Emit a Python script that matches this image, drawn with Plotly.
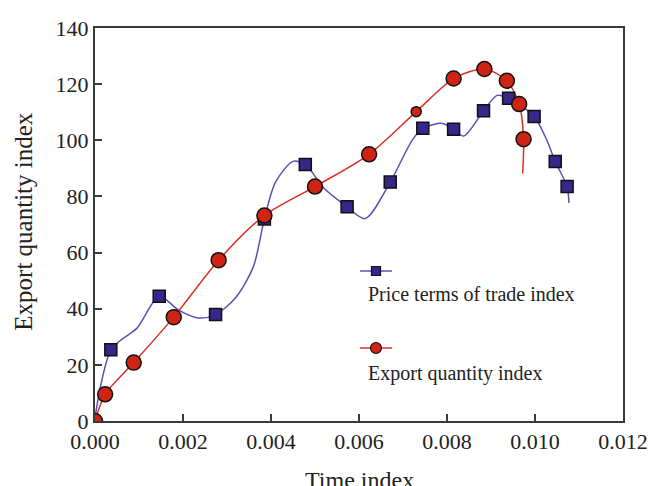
import plotly.graph_objects as go

# ---------------- data ----------------
# Price terms of trade index: marker points
price_x = [0.00036, 0.00146, 0.00274, 0.00385, 0.00478, 0.00573, 0.00671,
           0.00745, 0.00815, 0.00883, 0.00940, 0.00998, 0.01046, 0.01073]
price_y = [25.4, 44.4, 37.9, 72.0, 91.4, 76.3, 85.1,
           104.3, 103.9, 110.5, 115.0, 108.5, 92.4, 83.5]
# Price terms of trade index: fitted curve
price_curve_x = [0.0, 0.00012, 0.00036, 0.00060, 0.00095, 0.00146, 0.00190, 0.00235,
                 0.00274, 0.00320, 0.00360, 0.00385, 0.00410, 0.00450, 0.00478,
                 0.00520, 0.00573, 0.00614, 0.00671, 0.00720, 0.00745, 0.00790,
                 0.00815, 0.00838, 0.00883, 0.00914, 0.00940, 0.00998, 0.01027,
                 0.01046, 0.01073, 0.01077]
price_curve_y = [1.0, 12.0, 25.4, 29.0, 33.0, 44.4, 39.5, 36.7,
                 37.9, 44.0, 55.0, 72.0, 85.0, 92.5, 91.4,
                 83.0, 76.3, 72.1, 85.1, 99.8, 104.3, 106.0,
                 103.9, 101.5, 110.5, 116.0, 115.0, 108.5, 100.0,
                 92.4, 83.5, 77.7]

# Export quantity index: marker points
export_x = [0.0, 0.00023, 0.00088, 0.00179, 0.00281, 0.00385, 0.00500,
            0.00623, 0.00730, 0.00815, 0.00885, 0.00936, 0.00964, 0.00974]
export_y = [0.0, 9.5, 20.8, 37.0, 57.3, 73.2, 83.5,
            95.0, 110.2, 122.0, 125.4, 121.2, 112.9, 100.4]
export_sizes = [15, 15, 15, 15, 15, 15, 15, 15, 10, 15, 15, 15, 15, 15]
# Export quantity index: fitted curve
export_curve_x = export_x + [0.00972]
export_curve_y = export_y + [88.2]

x_ticks = [0.000, 0.002, 0.004, 0.006, 0.008, 0.010, 0.012]
x_tick_text = ["0.000", "0.002", "0.004", "0.006", "0.008", "0.010", "0.012"]
y_ticks = [0, 20, 40, 60, 80, 100, 120, 140]

series_names = ["Price terms of trade index", "Export quantity index"]

# ---------------- style ----------------
FONT = "Liberation Serif, Times New Roman, serif"
BLUE_LINE = "#5b50b8"
BLUE_FILL = "#35288a"
RED_LINE = "#d93025"
RED_FILL = "#cf2413"
AXIS = "#3a3a3a"

fig = go.Figure()

fig.add_trace(go.Scatter(x=price_curve_x, y=price_curve_y, mode="lines",
                         line=dict(color=BLUE_LINE, width=1.5, shape="spline", smoothing=0.8),
                         hoverinfo="skip", showlegend=False))
fig.add_trace(go.Scatter(x=export_curve_x, y=export_curve_y, mode="lines",
                         line=dict(color=RED_LINE, width=1.5, shape="spline", smoothing=0.8),
                         hoverinfo="skip", showlegend=False))
fig.add_trace(go.Scatter(x=price_x, y=price_y, mode="markers", name=series_names[0],
                         marker=dict(symbol="square", size=12, color=BLUE_FILL, opacity=1,
                                     line=dict(color="#111111", width=1.5)),
                         showlegend=False))
fig.add_trace(go.Scatter(x=export_x, y=export_y, mode="markers", name=series_names[1],
                         marker=dict(symbol="circle", size=export_sizes, color=RED_FILL,
                                     opacity=1, line=dict(color="#111111", width=1.5)),
                         showlegend=False))

# ---- legend drawn on an overlay axis in pixel units of the plot area ----
leg_x = [360, 392]
fig.add_trace(go.Scatter(x=leg_x, y=[271, 271], mode="lines", xaxis="x2", yaxis="y2",
                         line=dict(color=BLUE_LINE, width=1.5), hoverinfo="skip", showlegend=False))
fig.add_trace(go.Scatter(x=[376], y=[271], mode="markers", xaxis="x2", yaxis="y2",
                         marker=dict(symbol="square", size=9, color=BLUE_FILL, opacity=1,
                                     line=dict(color="#111111", width=1.2)),
                         hoverinfo="skip", showlegend=False))
fig.add_trace(go.Scatter(x=leg_x, y=[348, 348], mode="lines", xaxis="x2", yaxis="y2",
                         line=dict(color=RED_LINE, width=1.5), hoverinfo="skip", showlegend=False))
fig.add_trace(go.Scatter(x=[376], y=[348], mode="markers", xaxis="x2", yaxis="y2",
                         marker=dict(symbol="circle", size=11, color=RED_FILL, opacity=1,
                                     line=dict(color="#111111", width=1.2)),
                         hoverinfo="skip", showlegend=False))

annotations = [
    dict(x=366, y=294, xref="x2", yref="y2", text=series_names[0], showarrow=False,
         xanchor="left", yanchor="middle", font=dict(family=FONT, size=20, color="#222222")),
    dict(x=366, y=373, xref="x2", yref="y2", text=series_names[1], showarrow=False,
         xanchor="left", yanchor="middle", font=dict(family=FONT, size=20, color="#222222")),
    dict(x=0.5, y=-0.112, xref="paper", yref="paper", text="Time index", showarrow=False,
         xanchor="center", yanchor="top", font=dict(family=FONT, size=24, color="#222222")),
    dict(x=-0.136, y=0.5076, xref="paper", yref="paper", text="Export quantity index",
         showarrow=False, textangle=-90, xanchor="center", yanchor="middle",
         font=dict(family=FONT, size=25, color="#222222")),
]

fig.update_layout(
    width=649, height=486,
    margin=dict(l=95, r=26, t=28, b=65),
    paper_bgcolor="white", plot_bgcolor="white",
    font=dict(family=FONT, size=22, color="#222222"),
    annotations=annotations,
    hovermode=False,
    xaxis=dict(range=[0, 0.012], tickvals=x_ticks, ticktext=x_tick_text,
               ticks="inside", ticklen=7, tickwidth=1.5, tickcolor=AXIS,
               showline=True, linecolor=AXIS, linewidth=2, mirror=True, automargin=False,
               showgrid=False, zeroline=False, tickfont=dict(size=22)),
    yaxis=dict(range=[0, 140], tickvals=y_ticks,
               ticks="inside", ticklen=7, tickwidth=1.5, tickcolor=AXIS,
               showline=True, linecolor=AXIS, linewidth=2, mirror=True, automargin=False,
               showgrid=False, zeroline=False, tickfont=dict(size=22)),
    xaxis2=dict(range=[95, 623], overlaying="x", visible=False, fixedrange=True),
    yaxis2=dict(range=[421, 28], overlaying="y", visible=False, fixedrange=True),
    showlegend=False,
)

# remove the page's default body margin so the figure fills the window exactly
fig.write_html(
    "out.html",
    config={"displayModeBar": False},
    post_script="document.body.style.margin='0';document.body.style.overflow='hidden';"
                "document.documentElement.style.overflow='hidden';",
)
